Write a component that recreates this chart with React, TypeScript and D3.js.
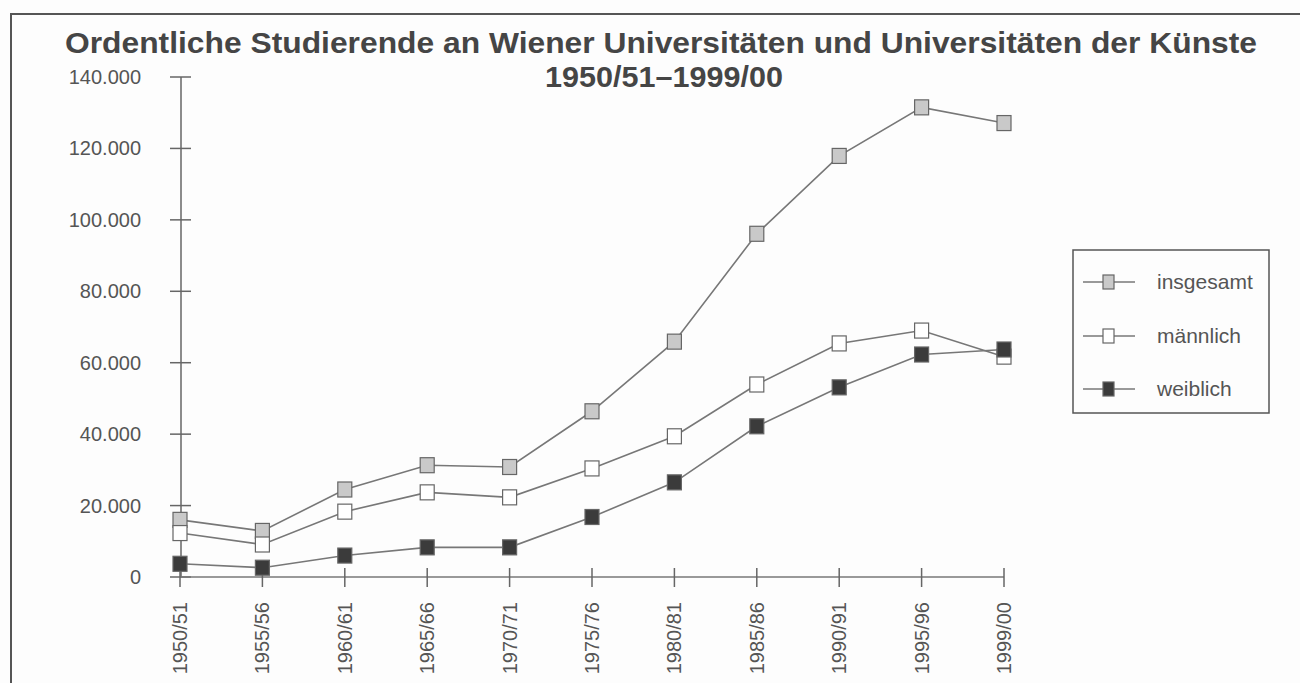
import * as React from 'react';
import * as d3 from 'd3';

// Schuljahre (x axis)
const years = [
  '1950/51', '1955/56', '1960/61', '1965/66', '1970/71', '1975/76',
  '1980/81', '1985/86', '1990/91', '1995/96', '1999/00'
];

// ordentliche Studierende
const insgesamt = [16000, 12900, 24500, 31300, 30800, 46400, 65900, 96100, 117900, 131500, 127100];
const maennlich = [12300, 9100, 18300, 23700, 22300, 30400, 39400, 53900, 65400, 69000, 61700];
const weiblich = [3700, 2600, 6000, 8300, 8300, 16800, 26500, 42200, 53100, 62300, 63700];

const yTicks = [0, 20000, 40000, 60000, 80000, 100000, 120000, 140000];

const seriesNames = ['insgesamt', 'männlich', 'weiblich'];
const seriesFills = ['#c9c9c9', '#ffffff', '#3b3b3b'];

const FONT = '"Liberation Sans", Arial, Helvetica, sans-serif';

const fmt = (v: number) => (v === 0 ? '0' : d3.format(',')(v).replace(/,/g, '.'));

const App = () => {
  const W = 1300;
  const H = 683;

  const x = d3.scalePoint<string>().domain(years).range([180, 1004]);
  const y = d3.scaleLinear().domain([0, 140000]).range([577, 77]);

  const series = [insgesamt, maennlich, weiblich];

  const line = d3
    .line<number>()
    .x((d, i) => x(years[i]) as number)
    .y(d => y(d));

  const mw = 14;
  const mh = 15;

  const legendRows = [282, 336, 389];

  return (
    <svg
      width={W}
      height={H}
      style={{ position: 'absolute', left: 0, top: 0, background: '#fdfdfd' }}
      fontFamily={FONT}
    >
      <rect x={0} y={0} width={W} height={H} fill="#fdfdfd" />
      {/* frame */}
      <rect x={11} y={14} width={W + 20} height={H + 20} fill="none" stroke="#555" strokeWidth={2} />

      {/* title */}
      <text
        x={661}
        y={53}
        textAnchor="middle"
        fontSize={29}
        fontWeight="bold"
        fill="#454545"
        textLength={1192}
        lengthAdjust="spacingAndGlyphs"
      >
        Ordentliche Studierende an Wiener Universitäten und Universitäten der Künste
      </text>
      <text
        x={664}
        y={87}
        textAnchor="middle"
        fontSize={29}
        fontWeight="bold"
        fill="#454545"
        textLength={238}
        lengthAdjust="spacingAndGlyphs"
      >
        1950/51–1999/00
      </text>

      {/* y axis */}
      <line x1={181} x2={181} y1={y(140000)} y2={y(0)} stroke="#666" strokeWidth={1.5} />
      {yTicks.map(t => (
        <g key={t}>
          <line x1={170} x2={191} y1={y(t)} y2={y(t)} stroke="#666" strokeWidth={1.5} />
          <text x={141} y={y(t)} dy="0.35em" textAnchor="end" fontSize={20} fill="#555">
            {fmt(t)}
          </text>
        </g>
      ))}

      {/* x axis */}
      <line x1={180} x2={1004} y1={y(0)} y2={y(0)} stroke="#777" strokeWidth={1.5} />
      {years.map(c => (
        <g key={c} transform={`translate(${x(c)},0)`}>
          <line x1={0} x2={0} y1={568} y2={587} stroke="#666" strokeWidth={1.5} />
          <text
            transform={`translate(0,602) rotate(-90)`}
            dy="0.35em"
            textAnchor="end"
            fontSize={20}
            fill="#555"
          >
            {c}
          </text>
        </g>
      ))}

      {/* lines */}
      {series.map((s, k) => (
        <path key={k} d={line(s) || ''} fill="none" stroke="#777" strokeWidth={1.6} />
      ))}

      {/* markers */}
      {series.map((s, k) => (
        <g key={k}>
          {s.map((v, i) => (
            <rect
              key={i}
              x={(x(years[i]) as number) - mw / 2}
              y={y(v) - mh / 2}
              width={mw}
              height={mh}
              fill={seriesFills[k]}
              stroke="#666"
              strokeWidth={1.2}
            />
          ))}
        </g>
      ))}

      {/* legend */}
      <rect x={1073} y={250} width={196} height={163} fill="#fdfdfd" stroke="#555" strokeWidth={1.5} />
      {seriesNames.map((n, k) => (
        <g key={n}>
          <line x1={1083} x2={1135} y1={legendRows[k]} y2={legendRows[k]} stroke="#777" strokeWidth={1.6} />
          <rect
            x={1103}
            y={legendRows[k] - 7}
            width={11}
            height={14}
            fill={seriesFills[k]}
            stroke="#666"
            strokeWidth={1.2}
          />
          <text x={1157} y={legendRows[k]} dy="0.35em" fontSize={21} fill="#555">
            {n}
          </text>
        </g>
      ))}
    </svg>
  );
};

export default App;
